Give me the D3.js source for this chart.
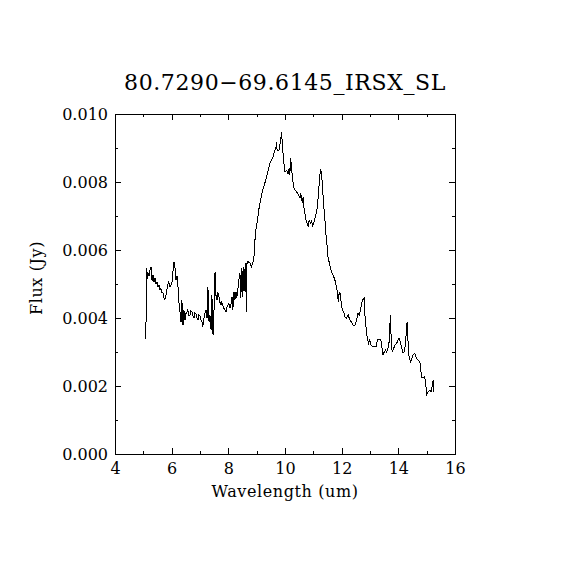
<!DOCTYPE html>
<html>
<head>
<meta charset="utf-8">
<script src="https://cdn.jsdelivr.net/npm/d3@7"></script>
<style>
  body { margin: 0; background: #fff; }
  text { font-family: "DejaVu Serif", "Liberation Serif", serif; fill: #000; }
</style>
</head>
<body>
<div id="chart"></div>
<script>
// title and axis labels
var titleText = "80.7290\u221269.6145_IRSX_SL";
var xLabel = "Wavelength (um)";
var yLabel = "Flux (Jy)";

// tick values
var xTicks = [4, 6, 8, 10, 12, 14, 16];
var xMinor = [5, 7, 9, 11, 13, 15];
var yTicks = [0.000, 0.002, 0.004, 0.006, 0.008, 0.010];
var yMinor = [0.001, 0.003, 0.005, 0.007, 0.009];

// spectrum
var wavelength = [5.09, 5.11, 5.13, 5.16, 5.20, 5.23, 5.27, 5.31, 5.34, 5.38,
  5.41, 5.45, 5.48, 5.52, 5.55, 5.59, 5.62, 5.66, 5.69, 5.73,
  5.76, 5.80, 5.83, 5.87, 5.90, 5.94, 5.98, 6.01, 6.05, 6.08,
  6.12, 6.15, 6.19, 6.22, 6.26, 6.29, 6.33, 6.36, 6.40, 6.43,
  6.47, 6.50, 6.54, 6.57, 6.61, 6.65, 6.68, 6.72, 6.75, 6.79,
  6.82, 6.86, 6.89, 6.93, 6.96, 7.00, 7.03, 7.07, 7.10, 7.14,
  7.17, 7.21, 7.25, 7.28, 7.32, 7.35, 7.39, 7.42, 7.46, 7.49,
  7.53, 7.56, 7.60, 7.63, 7.67, 7.70, 7.74, 7.77, 7.84, 7.88,
  7.92, 7.95, 7.99, 8.02, 8.06, 8.09, 8.13, 8.16, 8.20, 8.23,
  8.27, 8.30, 8.34, 8.37, 8.41, 8.44, 8.48, 8.51, 8.55, 8.59,
  8.62, 8.64, 8.66, 8.71, 8.76, 8.81, 8.87, 8.90, 8.93, 8.94,
  8.97, 9.02, 9.05, 9.09, 9.14, 9.17, 9.23, 9.29, 9.35, 9.41,
  9.47, 9.53, 9.58, 9.64, 9.68, 9.70, 9.72, 9.79, 9.82, 9.85,
  9.88, 9.91, 9.96, 10.00, 10.06, 10.11, 10.15, 10.17, 10.20, 10.23,
  10.27, 10.31, 10.35, 10.41, 10.47, 10.53, 10.56, 10.58, 10.62, 10.64,
  10.67, 10.70, 10.74, 10.78, 10.82, 10.85, 10.90, 10.94, 10.97, 11.02,
  11.09, 11.14, 11.17, 11.21, 11.23, 11.26, 11.29, 11.33, 11.37, 11.41,
  11.44, 11.49, 11.52, 11.58, 11.64, 11.70, 11.76, 11.82, 11.85, 11.88,
  11.90, 11.94, 11.97, 12.02, 12.08, 12.11, 12.17, 12.23, 12.29, 12.35,
  12.41, 12.47, 12.53, 12.58, 12.62, 12.67, 12.70, 12.76, 12.80, 12.82,
  12.85, 12.90, 12.95, 12.99, 13.03, 13.09, 13.17, 13.23, 13.26, 13.32,
  13.38, 13.42, 13.46, 13.50, 13.55, 13.58, 13.64, 13.67, 13.72, 13.74,
  13.78, 13.84, 13.89, 13.96, 14.02, 14.05, 14.11, 14.17, 14.22, 14.26,
  14.29, 14.31, 14.34, 14.38, 14.43, 14.48, 14.52, 14.58, 14.64, 14.70,
  14.76, 14.79, 14.83, 14.87, 14.93, 14.97, 15.00, 15.05, 15.11, 15.15,
  15.19, 15.23, 15.26];
var flux = [0.00338, 0.00547, 0.00515, 0.00532, 0.00524, 0.00541, 0.00550, 0.00509, 0.00526, 0.00506,
  0.00518, 0.00500, 0.00506, 0.00491, 0.00497, 0.00482, 0.00488, 0.00474, 0.00476, 0.00459,
  0.00453, 0.00468, 0.00482, 0.00500, 0.00506, 0.00491, 0.00497, 0.00503, 0.00541, 0.00565,
  0.00547, 0.00512, 0.00524, 0.00497, 0.00444, 0.00421, 0.00388, 0.00453, 0.00379, 0.00424,
  0.00394, 0.00412, 0.00418, 0.00424, 0.00406, 0.00409, 0.00421, 0.00418, 0.00406, 0.00400,
  0.00415, 0.00412, 0.00400, 0.00394, 0.00409, 0.00406, 0.00394, 0.00388, 0.00374, 0.00400,
  0.00412, 0.00424, 0.00400, 0.00491, 0.00388, 0.00409, 0.00365, 0.00468, 0.00350, 0.00409,
  0.00535, 0.00468, 0.00453, 0.00476, 0.00462, 0.00447, 0.00438, 0.00447, 0.00429, 0.00424,
  0.00418, 0.00432, 0.00438, 0.00444, 0.00429, 0.00438, 0.00462, 0.00424, 0.00476, 0.00453,
  0.00476, 0.00459, 0.00488, 0.00512, 0.00532, 0.00459, 0.00547, 0.00462, 0.00550, 0.00476,
  0.00562, 0.00418, 0.00565, 0.00565, 0.00562, 0.00550, 0.00565, 0.00579, 0.00600, 0.00629,
  0.00659, 0.00682, 0.00703, 0.00726, 0.00747, 0.00762, 0.00782, 0.00797, 0.00815, 0.00835,
  0.00856, 0.00865, 0.00874, 0.00894, 0.00900, 0.00918, 0.00894, 0.00894, 0.00909, 0.00924,
  0.00947, 0.00903, 0.00856, 0.00829, 0.00835, 0.00824, 0.00841, 0.00821, 0.00871, 0.00841,
  0.00806, 0.00785, 0.00776, 0.00771, 0.00762, 0.00753, 0.00768, 0.00747, 0.00741, 0.00756,
  0.00724, 0.00709, 0.00688, 0.00679, 0.00668, 0.00688, 0.00679, 0.00688, 0.00668, 0.00682,
  0.00703, 0.00724, 0.00756, 0.00797, 0.00821, 0.00838, 0.00826, 0.00776, 0.00726, 0.00688,
  0.00650, 0.00609, 0.00579, 0.00556, 0.00535, 0.00526, 0.00512, 0.00491, 0.00476, 0.00447,
  0.00468, 0.00476, 0.00453, 0.00424, 0.00415, 0.00403, 0.00400, 0.00409, 0.00394, 0.00388,
  0.00379, 0.00379, 0.00394, 0.00415, 0.00409, 0.00424, 0.00444, 0.00456, 0.00459, 0.00409,
  0.00379, 0.00344, 0.00326, 0.00335, 0.00321, 0.00315, 0.00315, 0.00315, 0.00338, 0.00338,
  0.00338, 0.00315, 0.00291, 0.00300, 0.00306, 0.00300, 0.00312, 0.00326, 0.00409, 0.00356,
  0.00300, 0.00312, 0.00321, 0.00329, 0.00341, 0.00335, 0.00315, 0.00297, 0.00303, 0.00335,
  0.00365, 0.00388, 0.00335, 0.00285, 0.00271, 0.00282, 0.00291, 0.00297, 0.00282, 0.00276,
  0.00271, 0.00247, 0.00226, 0.00224, 0.00229, 0.00203, 0.00174, 0.00182, 0.00188, 0.00182,
  0.00197, 0.00218, 0.00182];

function drawChart() {
    var margin = { top: 114, right: 115, bottom: 116, left: 115 },
    width = 570 - margin.left - margin.right,
    height = 570 - margin.top - margin.bottom;

    var svg = d3.select("#chart").append("svg")
        .attr("width", 570)
        .attr("height", 570)
        .style("background", "#fff");

    var g = svg.append("g")
        .attr("transform", `translate(${margin.left},${margin.top})`);

    var x = d3.scaleLinear().domain([4, 16]).range([0, width]);
    var y = d3.scaleLinear().domain([0, 0.010]).range([height, 0]);

    // frame
    g.append("rect")
        .attr("width", width)
        .attr("height", height)
        .attr("fill", "none")
        .attr("stroke", "#000")
        .attr("stroke-width", 1)
        .attr("shape-rendering", "crispEdges");

    // ticks point inward on all four sides
    function styleAxis(sel) {
        sel.select(".domain").remove();
        sel.selectAll("line").attr("stroke", "#000").attr("shape-rendering", "crispEdges");
        sel.selectAll("text").style("font-size", "16px").attr("fill", "#000");
    }

    g.append("g")
        .attr("transform", `translate(0,${height})`)
        .call(d3.axisBottom(x).tickValues(xTicks).tickSize(-6).tickPadding(9).tickFormat(d3.format("d")))
        .call(styleAxis);
    g.append("g")
        .attr("transform", `translate(0,${height})`)
        .call(d3.axisBottom(x).tickValues(xMinor).tickSize(-3).tickFormat(""))
        .call(styleAxis);
    g.append("g")
        .call(d3.axisTop(x).tickValues(xTicks).tickSize(-6).tickFormat(""))
        .call(styleAxis);
    g.append("g")
        .call(d3.axisTop(x).tickValues(xMinor).tickSize(-3).tickFormat(""))
        .call(styleAxis);

    g.append("g")
        .call(d3.axisLeft(y).tickValues(yTicks).tickSize(-6).tickPadding(7).tickFormat(d3.format(".3f")))
        .call(styleAxis);
    g.append("g")
        .call(d3.axisLeft(y).tickValues(yMinor).tickSize(-3).tickFormat(""))
        .call(styleAxis);
    g.append("g")
        .attr("transform", `translate(${width},0)`)
        .call(d3.axisRight(y).tickValues(yTicks).tickSize(-6).tickFormat(""))
        .call(styleAxis);
    g.append("g")
        .attr("transform", `translate(${width},0)`)
        .call(d3.axisRight(y).tickValues(yMinor).tickSize(-3).tickFormat(""))
        .call(styleAxis);

    // spectrum, drawn aliased like the original plot
    var pts = wavelength.map(function (w, i) { return [w, flux[i]]; });
    var line = d3.line()
        .x(function (d) { return x(d[0]); })
        .y(function (d) { return y(d[1]); });

    g.append("path")
        .datum(pts)
        .attr("fill", "none")
        .attr("stroke", "#000")
        .attr("stroke-width", 1)
        .attr("shape-rendering", "crispEdges")
        .attr("d", line);

    // title
    svg.append("text")
        .attr("x", margin.left + width / 2)
        .attr("y", 90)
        .attr("text-anchor", "middle")
        .style("font-size", "22px")
        .style("letter-spacing", "0.6px")
        .text(titleText);

    // x label
    svg.append("text")
        .attr("x", margin.left + width / 2)
        .attr("y", 497)
        .attr("text-anchor", "middle")
        .style("font-size", "16px")
        .style("letter-spacing", "0.6px")
        .text(xLabel);

    // y label
    svg.append("text")
        .attr("transform", "rotate(-90)")
        .attr("x", -278)
        .attr("y", 42)
        .attr("text-anchor", "middle")
        .style("font-size", "16px")
        .style("letter-spacing", "0.6px")
        .text(yLabel);
}

drawChart();
</script>
</body>
</html>
